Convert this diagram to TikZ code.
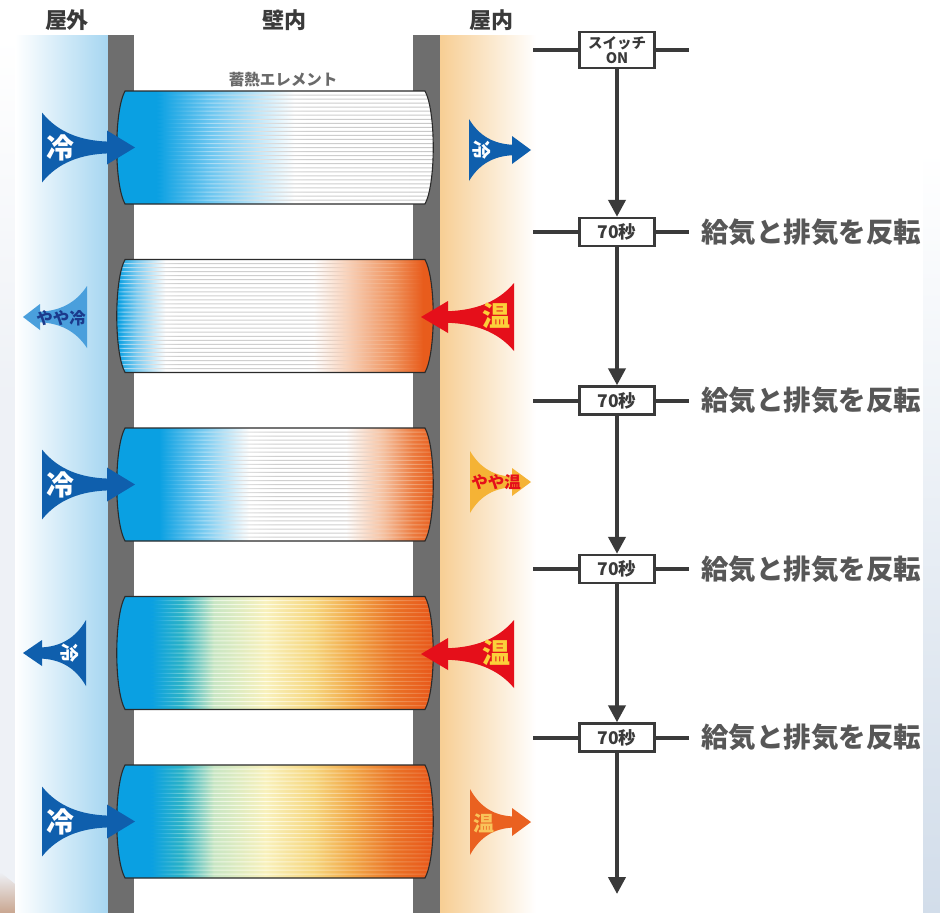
\documentclass[tikz,border=0pt]{standalone}
\usepackage{fontspec}
\newfontfamily\jp{Noto Sans CJK JP}
\usetikzlibrary{arrows.meta}

% ---------- colours ----------
\definecolor{ink}{HTML}{3A3A3A}
\definecolor{labelgray}{HTML}{575757}
\definecolor{captiongray}{HTML}{6A6A6A}
\definecolor{wallgray}{HTML}{6E6E6E}
\definecolor{coldsky}{HTML}{A6D6F1}
\definecolor{warmsand}{HTML}{F7CE94}
\definecolor{sidebg}{HTML}{EEF1F6}
\definecolor{sidetan}{HTML}{C9A690}
\definecolor{stripblue}{HTML}{D2DDEA}
\definecolor{coreline}{HTML}{2B2B2B}
\definecolor{navy}{HTML}{0F5FAD}
\definecolor{midblue}{HTML}{4A9FDC}
\definecolor{deepnavy}{HTML}{1B3A8C}
\definecolor{warmred}{HTML}{E50F1A}
\definecolor{sunyellow}{HTML}{FBD03A}
\definecolor{amber}{HTML}{F5B335}
\definecolor{flame}{HTML}{EA6120}
\definecolor{paleflame}{HTML}{F9C35A}
\definecolor{elblue}{HTML}{0AA0E2}
\definecolor{elorange}{HTML}{E85C1C}
% body tones
\definecolor{cAa}{HTML}{6CC6F0}
\definecolor{cBa}{HTML}{7CCBF0}
\definecolor{cBb}{HTML}{F6C2A2}
\definecolor{cBc}{HTML}{EE8A52}
\definecolor{cCa}{HTML}{7ACBF0}
\definecolor{cCb}{HTML}{F5BE9C}
\definecolor{cCc}{HTML}{EC7A3E}
\definecolor{cDa}{HTML}{2CB2C6}
\definecolor{cDb}{HTML}{C8E6C4}
\definecolor{cDc}{HTML}{F8F1BC}
\definecolor{cDd}{HTML}{F6D67E}
\definecolor{cDe}{HTML}{F2A848}
\definecolor{cDf}{HTML}{EA7226}
\definecolor{cDg}{HTML}{E8561A}
% stripe tones
\definecolor{sAa}{HTML}{A9DCF5}
\definecolor{sgA}{HTML}{E0E0E0}
\definecolor{sgB}{HTML}{CFCFCF}
\definecolor{sgC}{HTML}{C8C8C8}
\definecolor{sBa}{HTML}{9AD6F4}
\definecolor{sBb}{HTML}{F3D2BE}
\definecolor{sBc}{HTML}{F2A678}
\definecolor{sCa}{HTML}{B2E0F6}
\definecolor{sCb}{HTML}{F4D4C0}
\definecolor{sCc}{HTML}{F0A274}
\definecolor{sCd}{HTML}{EA7A40}
\definecolor{sDa}{HTML}{6ECDD8}
\definecolor{sDb}{HTML}{E8F5E2}
\definecolor{sDc}{HTML}{FFFCE6}
\definecolor{sDd}{HTML}{FAE8B4}
\definecolor{sDe}{HTML}{F6C482}
\definecolor{sDf}{HTML}{EF9458}
\definecolor{sDg}{HTML}{EA6E34}

% ---------- shadings of the heat storage cores (25bp..75bp = left..right edge) ----------
\pgfdeclarehorizontalshading{coreA}{100bp}{color(0bp)=(elblue); color(25bp)=(elblue); color(31.5bp)=(elblue); color(40bp)=(cAa); color(53bp)=(white); color(100bp)=(white)}
\pgfdeclarehorizontalshading{stripeA}{100bp}{color(0bp)=(elblue); color(25bp)=(elblue); color(32bp)=(elblue); color(40bp)=(sAa); color(47.5bp)=(sgA); color(55bp)=(sgB); color(75bp)=(sgC); color(100bp)=(sgC)}
\pgfdeclarehorizontalshading{coreB}{100bp}{color(0bp)=(elblue); color(25.7bp)=(elblue); color(28.5bp)=(cBa); color(33bp)=(white); color(56bp)=(white); color(63bp)=(cBb); color(69bp)=(cBc); color(73bp)=(elorange); color(100bp)=(elorange)}
\pgfdeclarehorizontalshading{stripeB}{100bp}{color(0bp)=(elblue); color(25bp)=(elblue); color(26.5bp)=(sBa); color(31bp)=(sgA); color(35bp)=(sgB); color(55bp)=(sgB); color(61bp)=(sBb); color(68bp)=(sBc); color(73bp)=(elorange); color(100bp)=(elorange)}
\pgfdeclarehorizontalshading{coreC}{100bp}{color(0bp)=(elblue); color(32bp)=(elblue); color(39bp)=(cCa); color(46bp)=(white); color(61bp)=(white); color(67bp)=(cCb); color(71.5bp)=(cCc); color(75bp)=(elorange); color(100bp)=(elorange)}
\pgfdeclarehorizontalshading{stripeC}{100bp}{color(0bp)=(elblue); color(32bp)=(elblue); color(39bp)=(sCa); color(45bp)=(sgA); color(50bp)=(sgB); color(60bp)=(sgB); color(66bp)=(sCb); color(71.5bp)=(sCc); color(75bp)=(sCd); color(100bp)=(sCd)}
\pgfdeclarehorizontalshading{coreD}{100bp}{color(0bp)=(elblue); color(30.5bp)=(elblue); color(35.5bp)=(cDa); color(40.5bp)=(cDb); color(48.5bp)=(cDc); color(56bp)=(cDd); color(62bp)=(cDe); color(68.5bp)=(cDf); color(75bp)=(cDg); color(100bp)=(cDg)}
\pgfdeclarehorizontalshading{stripeD}{100bp}{color(0bp)=(elblue); color(31bp)=(elblue); color(35.5bp)=(sDa); color(40.5bp)=(sDb); color(48.5bp)=(sDc); color(56bp)=(sDd); color(62bp)=(sDe); color(68.5bp)=(sDf); color(75bp)=(sDg); color(100bp)=(sDg)}

\tikzset{
  colhead/.style={font=\jp\bfseries\fontsize{22}{22}\selectfont, text=ink, inner sep=0pt},
  caption/.style={font=\jp\bfseries\fontsize{15.5}{15.5}\selectfont, text=captiongray, inner sep=0pt},
  bigmark/.style={font=\jp\bfseries\fontsize{28}{28}\selectfont, inner sep=0pt},
  smallmark/.style={font=\jp\bfseries\fontsize{19}{19}\selectfont, inner sep=0pt},
  phrase/.style={font=\jp\bfseries\fontsize{16.5}{16.5}\selectfont, inner sep=0pt},
  stepbox/.style={draw=ink, line width=2.4pt, fill=white, minimum width=75pt, minimum height=28pt,
    inner sep=0pt, text=ink, font=\jp\bfseries\fontsize{17.5}{17.5}\selectfont},
  wire/.style={draw=ink, line width=4pt},
  flow/.style={wire, -{Triangle[length=17pt,width=17pt]}},
  revlabel/.style={font=\jp\bfseries\fontsize{27.5}{27.5}\selectfont, text=labelgray, inner sep=0pt, anchor=west},
}

% heat storage core: #1 top edge, #2 body shading, #3 stripe shading
\newcommand\heatcore[3]{%
  \shade[shading=#2] (125,#1) -- (425,#1) .. controls (436,#1+20) and (436,#1+93) .. (425,#1+113)
    -- (125,#1+113) .. controls (114,#1+93) and (114,#1+20) .. (125,#1) -- cycle;
  \begin{scope}
    \clip (125,#1) -- (425,#1) .. controls (436,#1+20) and (436,#1+93) .. (425,#1+113)
      -- (125,#1+113) .. controls (114,#1+93) and (114,#1+20) .. (125,#1) -- cycle;
    \shade[shading=#3] \foreach \k in {1,...,27} {(114,#1+\k*4.04-0.5) rectangle (436,#1+\k*4.04+0.5)};
  \end{scope}
  \draw[coreline, line width=1.1pt] (125,#1) -- (425,#1) .. controls (436,#1+20) and (436,#1+93) .. (425,#1+113)
    -- (125,#1+113) .. controls (114,#1+93) and (114,#1+20) .. (125,#1) -- cycle;
}

% flared air arrow: #1 base x, #2 centre y, #3 direction (1 right, -1 left), #4 length,
% #5 half height of the base, #6 head length, #7 head half height, #8 colour
\newcommand\airflow[8]{%
  \begin{scope}[shift={(#1,#2)}, xscale=#3]
    \fill[#8] (0,-#5) .. controls ({0.25*(#4-#6)},{-0.42*#5}) and ({0.6*(#4-#6)},{-0.2*#5}) .. ({#4-#6},{-0.17*#5})
      -- ({#4-#6},-#7) -- (#4,0) -- ({#4-#6},#7) -- ({#4-#6},{0.17*#5})
      .. controls ({0.6*(#4-#6)},{0.2*#5}) and ({0.25*(#4-#6)},{0.42*#5}) .. (0,#5) -- cycle;
  \end{scope}}

\begin{document}
\begin{tikzpicture}[x=1pt, y=-1pt]
  \useasboundingbox (0,0) rectangle (940,913);
  \fill[white] (0,0) rectangle (940,913);

  % outer margins
  \shade[top color=white, bottom color=stripblue] (923,150) rectangle (940,913);
  \shade[top color=white, bottom color=sidebg] (0,35) rectangle (15,400);
  \fill[sidebg] (0,400) rectangle (15,913);
  \shade[top color=sidebg, bottom color=sidetan] (0,872) -- (15,884) -- (15,913) -- (0,913) -- cycle;

  % outdoor air, walls, indoor air
  \shade[left color=white, right color=coldsky] (15,35) rectangle (108,913);
  \shade[left color=warmsand, right color=white] (440,35) rectangle (536,913);
  \fill[wallgray] (108,35) rectangle (134,913);
  \fill[wallgray] (413,35) rectangle (440,913);

  % column headings
  \node[colhead] (hOut) at (67,20) {屋外};
  \node[colhead] (hWall) at (284,20) {壁内};
  \node[colhead] (hIn) at (491,20) {屋内};
  \node[caption] (hCore) at (283,80) {蓄熱エレメント};

  % heat storage cores
  \heatcore{91}{coreA}{stripeA}
  \heatcore{259.5}{coreB}{stripeB}
  \heatcore{428}{coreC}{stripeC}
  \heatcore{596.5}{coreD}{stripeD}
  \heatcore{765}{coreD}{stripeD}

  % outdoor side air flows
  \airflow{42}{147.5}{1}{93}{35}{28}{17}{navy}
  \node[bigmark, text=white] (o1) at (60,148) {冷};
  \airflow{87}{317}{-1}{64}{31}{17}{13}{midblue}
  \node[phrase, text=deepnavy] (o2) at (61,318) {やや冷};
  \airflow{42}{484.5}{1}{93}{35}{28}{17}{navy}
  \node[bigmark, text=white] (o3) at (60,485) {冷};
  \airflow{86}{653}{-1}{63}{33}{19}{13}{navy}
  \node[smallmark, text=white, rotate=-90] (o4) at (70,653) {冷};
  \airflow{42}{821.5}{1}{93}{35}{28}{17}{navy}
  \node[bigmark, text=white] (o5) at (60,822) {冷};

  % indoor side air flows
  \airflow{469}{150}{1}{62}{31}{19}{14}{navy}
  \node[smallmark, text=white, rotate=-90] (i1) at (482,150) {冷};
  \airflow{514}{317}{-1}{93}{34}{27}{16}{warmred}
  \node[bigmark, text=sunyellow] (i2) at (496,316) {温};
  \airflow{470}{482}{1}{61}{31}{19}{14}{amber}
  \node[phrase, text=warmred] (i3) at (496,482) {やや温};
  \airflow{514}{654}{-1}{93}{34}{27}{16}{warmred}
  \node[bigmark, text=sunyellow] (i4) at (496,653) {温};
  \airflow{470}{822}{1}{61}{33}{19}{14}{flame}
  \node[smallmark, font=\jp\bfseries\fontsize{21}{21}\selectfont, text=paleflame] (i5) at (484,823) {温};

  % timing chart
  \node[stepbox, minimum height=36pt, align=center, font=\jp\bfseries\fontsize{14.5}{15}\selectfont] (sw) at (617,50) {スイッチ\\ON};
  \node[stepbox] (t1) at (617,232) {70秒};
  \node[stepbox] (t2) at (617,400.5) {70秒};
  \node[stepbox] (t3) at (617,569) {70秒};
  \node[stepbox] (t4) at (617,737.5) {70秒};
  \coordinate (swL) at (533,50);  \coordinate (swR) at (689,50);
  \coordinate (t1L) at (533,232); \coordinate (t1R) at (689,232);
  \coordinate (t2L) at (533,400.5); \coordinate (t2R) at (689,400.5);
  \coordinate (t3L) at (533,569); \coordinate (t3R) at (689,569);
  \coordinate (t4L) at (533,737.5); \coordinate (t4R) at (689,737.5);
  \coordinate (tEnd) at (617,894);

  \foreach \b in {sw,t1,t2,t3,t4} {
    \draw[wire] (\b L) -- (\b.west);
    \draw[wire] (\b.east) -- (\b R);
  }
  \draw[flow] (sw.south) -- (t1.north);
  \draw[flow] (t1.south) -- (t2.north);
  \draw[flow] (t2.south) -- (t3.north);
  \draw[flow] (t3.south) -- (t4.north);
  \draw[flow] (t4.south) -- (tEnd);

  \node[revlabel] (r1) at (701,232) {給気と排気を反転};
  \node[revlabel] (r2) at (701,400.5) {給気と排気を反転};
  \node[revlabel] (r3) at (701,569) {給気と排気を反転};
  \node[revlabel] (r4) at (701,737.5) {給気と排気を反転};
\end{tikzpicture}
\end{document}
